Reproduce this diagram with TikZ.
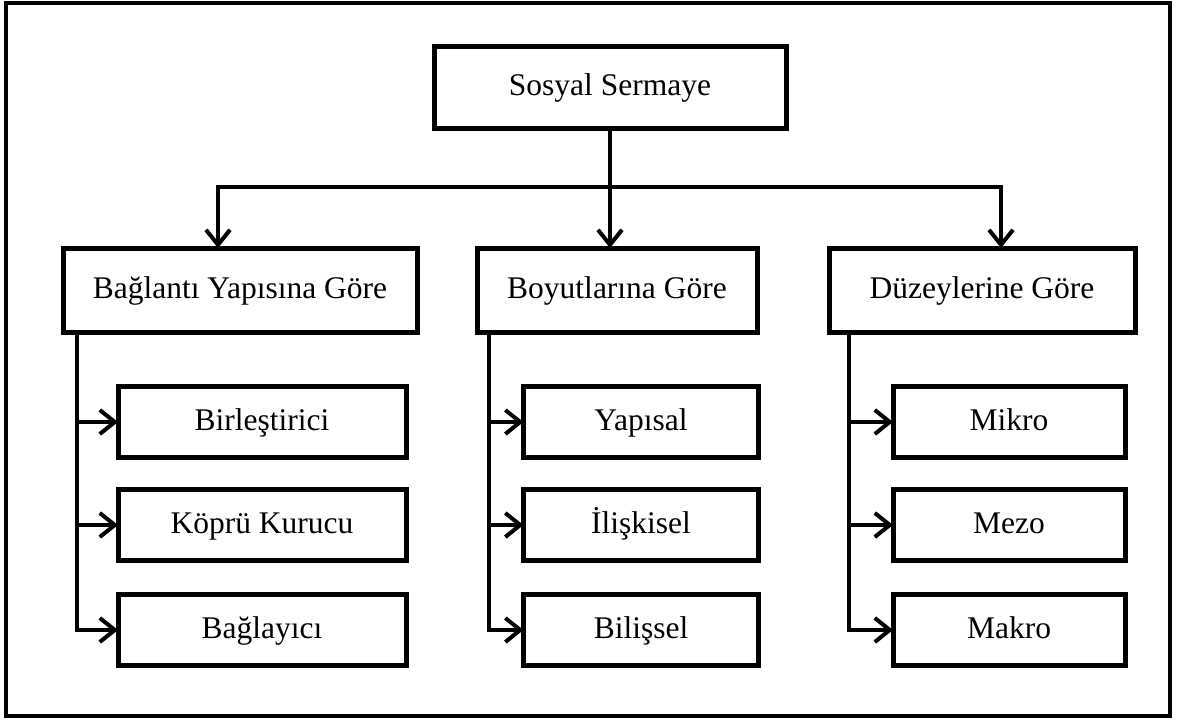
\documentclass[tikz,border=0pt]{standalone}
\usepackage{fontspec}
\setmainfont{Liberation Serif}
\usetikzlibrary{arrows.meta,calc}
\begin{document}
\begin{tikzpicture}[x=1pt,y=-1pt,
  box/.style={draw,line width=5pt,rectangle,outer sep=0pt,inner sep=2pt,
    text height=23pt,text depth=6pt,
    font=\fontsize{31.5}{36}\selectfont,align=center},
  conn/.style={line width=4pt,line cap=rect},
  arr/.style={conn,-{Straight Barb[length=15pt,width=24pt,line width=4pt]}}]
\useasboundingbox (0,0) rectangle (1180,720);
\draw[line width=3.5pt] (6,3) rectangle (1170,716);
% top
\node[box,minimum width=352pt,minimum height=82pt] (top) at (610,87) {Sosyal Sermaye};
% level 2
\node[box,minimum width=354pt,minimum height=84pt] (a) at (240,290) {Bağlantı Yapısına Göre};
\node[box,minimum width=280pt,minimum height=84pt] (b) at (617,290) {Boyutlarına Göre};
\node[box,minimum width=306pt,minimum height=84pt] (c) at (982,290) {Düzeylerine Göre};
% children
\node[box,minimum width=288pt,minimum height=71pt] (a1) at (262,422) {Birleştirici};
\node[box,minimum width=288pt,minimum height=71pt] (a2) at (262,525) {Köprü Kurucu};
\node[box,minimum width=288pt,minimum height=71pt] (a3) at (262,630) {Bağlayıcı};
\node[box,minimum width=235pt,minimum height=71pt] (b1) at (641,422) {Yapısal};
\node[box,minimum width=235pt,minimum height=71pt] (b2) at (641,525) {İlişkisel};
\node[box,minimum width=235pt,minimum height=71pt] (b3) at (641,630) {Bilişsel};
\node[box,minimum width=232pt,minimum height=71pt] (c1) at (1009,422) {Mikro};
\node[box,minimum width=232pt,minimum height=71pt] (c2) at (1009,525) {Mezo};
\node[box,minimum width=232pt,minimum height=71pt] (c3) at (1009,630) {Makro};
% hub
\coordinate (hl) at (218,187);
\coordinate (hr) at (1001,187);
\draw[conn] (hl) -- (hr);
\draw[arr] (top.south) -- (top.south |- b.north);
\draw[arr] (hl) -- (hl |- a.north);
\draw[arr] (hr) -- (hr |- c.north);
% branches
\coordinate (av) at (77,332);
\coordinate (bv) at (489,332);
\coordinate (cv) at (849,332);
\draw[conn] (av) -- (av |- a3.west);
\draw[conn] (bv) -- (bv |- b3.west);
\draw[conn] (cv) -- (cv |- c3.west);
\foreach \p/\q in {av/a1,av/a2,av/a3,bv/b1,bv/b2,bv/b3,cv/c1,cv/c2,cv/c3}
  \draw[arr] (\p |- \q.west) -- (\q.west);
\end{tikzpicture}
\end{document}
